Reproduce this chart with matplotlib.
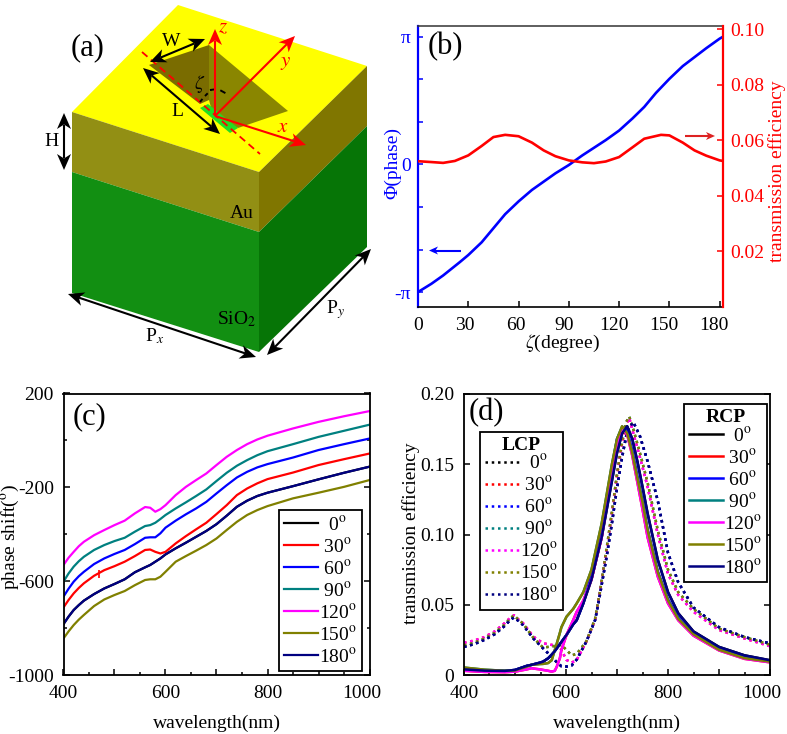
import matplotlib
matplotlib.use('Agg')
import matplotlib.pyplot as plt
from matplotlib.patches import Polygon
from matplotlib.ticker import MultipleLocator, FixedLocator
from matplotlib.transforms import ScaledTranslation
import numpy as np

plt.rcParams['font.family'] = ['Liberation Serif', 'DejaVu Serif']
plt.rcParams['mathtext.fontset'] = 'stix'
plt.rcParams['font.size'] = 14
plt.rcParams['axes.unicode_minus'] = False

W_PX, H_PX = 787, 734
DPI = 100

# panel (b)
zeta_phase = [0, 8, 15, 25, 30, 38, 45, 52, 60, 68, 75, 82, 90, 98, 105, 112, 120, 128, 135, 142, 150, 158, 165, 172, 180, 182]
phase_over_pi = [-1.0, -0.935, -0.87, -0.765, -0.71, -0.61, -0.50, -0.39, -0.29, -0.20, -0.135, -0.07, -0.005, 0.07, 0.13, 0.19, 0.265, 0.36, 0.45, 0.56, 0.67, 0.77, 0.84, 0.91, 0.985, 1.0]
zeta_eff = [0, 8, 15, 22, 30, 38, 45, 52, 60, 68, 75, 82, 90, 98, 105, 112, 120, 128, 135, 145, 150, 158, 165, 172, 180, 182]
eff_zeta = [.0525, .0522, .0519, .0526, .0546, .058, .0612, .062, .0615, .0592, .0564, .0543, .0528, .0521, .0518, .0524, .054, .0575, .0606, .062, .0618, .0592, .0564, .0545, .0528, .0526]

# panel (c)
wl_c = [400, 410, 420, 430, 440, 460, 480, 500, 520, 540, 560, 570, 580, 590, 600, 620, 640, 660, 680, 700, 720, 740, 760, 780, 800, 850, 900, 950, 1000]
phase_120 = [-531, -500, -475, -451, -432, -404, -382, -361, -342, -311, -284, -287, -304, -293, -276, -233, -198, -169, -141, -105, -70, -41, -16, 4, 20, 51, 79, 103, 125]
phase_90 = [-602, -567, -538, -515, -496, -467, -446, -429, -415, -389, -365, -361, -351, -335, -318, -290, -264, -237, -209, -173, -138, -108, -84, -63, -46, -16, 15, 41, 67]
phase_60 = [-666, -632, -602, -579, -560, -527, -503, -484, -467, -442, -415, -413, -413, -396, -372, -342, -315, -290, -262, -226, -191, -158, -134, -115, -101, -73, -41, -16, 8]
phase_30 = [-712, -680, -652, -629, -609, -577, -553, -536, -517, -493, -467, -465, -475, -482, -475, -439, -408, -379, -351, -314, -276, -233, -205, -183, -165, -137, -105, -80, -56]
phase_180 = [-783, -751, -723, -702, -683, -655, -631, -612, -592, -562, -541, -531, -517, -503, -486, -460, -436, -411, -386, -357, -321, -283, -257, -237, -223, -195, -166, -138, -112]
phase_0 = list(phase_180)
phase_150 = [-844, -814, -787, -764, -744, -706, -678, -659, -642, -617, -595, -592, -592, -581, -560, -517, -493, -470, -446, -418, -382, -347, -318, -297, -280, -247, -223, -198, -169]
glitch_wl = [469]
glitch_phase = [-570]

# panel (d), solid = RCP
wl_r = [400, 440, 480, 500, 523, 532, 549, 555, 565, 572, 578, 582, 588, 591, 601, 614, 621, 634, 650, 670, 690, 700, 710, 720, 730, 740, 750, 760, 780, 800, 820, 850, 900, 950, 1000]
rcp_180 = [.004, .0031, .0029, .0036, .0065, .0072, .0088, .0095, .0119, .0145, .017, .019, .022, .0235, .0285, .036, .039, .051, .068, .098, .138, .158, .172, .177, .168, .152, .134, .115, .082, .059, .044, .031, .020, .014, .0105]
rcp_0 = list(rcp_180)
rcp_150 = [.0053, .0038, .003, .0032, .006, .0072, .0078, .0079, .0085, .0105, .0178, .0225, .030, .034, .0415, .047, .051, .059, .075, .108, .150, .168, .177, .172, .158, .140, .123, .103, .073, .053, .040, .029, .018, .012, .0095]
rcp_90 = list(rcp_150)
rcp_120 = [.003, .0022, .002, .0024, .004, .0048, .004, .0036, .003, .0024, .003, .006, .012, .0178, .0285, .039, .045, .053, .068, .098, .143, .164, .176, .171, .156, .137, .118, .098, .070, .051, .039, .028, .0175, .0115, .009]
rcp_30 = list(rcp_120)
rcp_60 = [.004, .0031, .0029, .0036, .0065, .0072, .0088, .0095, .0119, .0145, .017, .019, .022, .0235, .0285, .036, .039, .051, .072, .106, .148, .168, .176, .174, .160, .142, .124, .104, .074, .054, .041, .029, .0185, .0125, .0095]

# panel (d), dotted = LCP
wl_l = [400, 420, 440, 460, 480, 490, 498, 505, 516, 536, 555, 575, 582, 591, 601, 611, 621, 640, 657, 666, 680, 690, 700, 710, 718, 724, 732, 745, 760, 780, 800, 820, 850, 900, 950, 1000]
lcp_120 = [.023, .0245, .027, .031, .037, .0405, .0425, .040, .0368, .0273, .0226, .0212, .0219, .0178, .0107, .0088, .0107, .0238, .0392, .058, .090, .115, .142, .165, .178, .183, .172, .155, .134, .100, .072, .057, .045, .032, .026, .0205]
lcp_30 = list(lcp_120)
lcp_150 = [.021, .023, .026, .030, .036, .040, .0425, .040, .0365, .0265, .0195, .0205, .021, .0214, .0178, .014, .015, .024, .040, .058, .091, .116, .143, .166, .180, .184, .175, .158, .137, .103, .075, .059, .047, .033, .027, .0215]
lcp_90 = list(lcp_150)
lcp_180 = [.020, .022, .025, .029, .035, .039, .041, .039, .0355, .026, .019, .0119, .009, .0062, .006, .0068, .011, .0238, .039, .056, .085, .108, .133, .155, .170, .176, .180, .170, .152, .124, .087, .066, .048, .034, .027, .0225]
lcp_60 = list(lcp_180)
lcp_0 = list(lcp_180)

angle_labels = ['  0$^{\\mathrm{o}}$', ' 30$^{\\mathrm{o}}$', ' 60$^{\\mathrm{o}}$', ' 90$^{\\mathrm{o}}$',
                '120$^{\\mathrm{o}}$', '150$^{\\mathrm{o}}$', '180$^{\\mathrm{o}}$']
line_colors = ['#000000', '#ff0000', '#0000ff', '#008080', '#ff00ff', '#808000', '#000080']

# panel (a) outlines, picture pixels
top_face = [(178, 5), (367, 66), (259, 172), (72, 112)]
au_left = [(72, 112), (259, 172), (259, 232), (72, 172)]
au_right = [(259, 172), (367, 66), (367, 126), (259, 232)]
sio2_left = [(72, 172), (259, 232), (259, 352), (72, 293)]
sio2_right = [(259, 232), (367, 126), (367, 247), (259, 352)]
hole_left = [(149, 65), (209, 45), (209, 100), (200, 104)]
hole_right = [(209, 45), (288, 111), (238, 128), (213, 115), (209, 100)]
hole_green = [(200, 108), (208, 104), (238, 128), (230, 133)]


def px_axes(fig, left, top, right, bottom):
    return fig.add_axes([left / W_PX, 1 - bottom / H_PX, (right - left) / W_PX, (bottom - top) / H_PX])


def shift_label(fig, label, dx):
    label.set_transform(label.get_transform() + ScaledTranslation(dx / DPI, 0, fig.dpi_scale_trans))


def wave_axes(ax):
    ax.set_xlim(400, 1000)
    ax.set_xticks([400, 500, 600, 700, 800, 900, 1000], labels=['400', '', '600', '', '800', '', '1000'])
    ax.xaxis.set_minor_locator(MultipleLocator(50))
    ax.tick_params(which='both', direction='in', top=False, right=True, width=1.1)
    ax.tick_params(which='major', length=4, pad=7)
    ax.tick_params(which='minor', length=2.5)
    for s in ax.spines.values():
        s.set_linewidth(1.3)
    ax.set_xlabel('wavelength(nm)')
    ax.xaxis.set_label_coords(0.5, -0.142)
    fig.canvas.draw()
    shift_label(fig, ax.get_xticklabels()[-1], -8)


def add_legend(ax, handles, labels, x, y, title=None):
    leg = ax.legend(handles, labels, loc='upper left', bbox_to_anchor=(x, y), frameon=True, fancybox=False,
                    framealpha=1, edgecolor='black', handlelength=1.75, handletextpad=0.05, labelspacing=0.16,
                    borderpad=0.25, borderaxespad=0, title=title,
                    title_fontproperties={'weight': 'bold', 'size': 14})
    leg.get_frame().set_linewidth(1.3)
    # no extra gap under the title
    leg._legend_box.sep = 0
    return leg


fig = plt.figure(figsize=(W_PX / DPI, H_PX / DPI), dpi=DPI)

# (b)
ax_b = px_axes(fig, 418, 26, 723, 307)
ax_b.plot(zeta_phase, np.array(phase_over_pi) * np.pi, color='#0000ff', lw=1.9)
ax_b.set_xlim(0, 182)
ax_b.set_ylim(-1.117 * np.pi, 1.084 * np.pi)
ax_b.set_xticks([0, 30, 60, 90, 120, 150, 180])
ax_b.set_yticks([-np.pi, 0, np.pi])
ax_b.set_yticklabels(['-π', '0', 'π'], color='#0000ff')
ax_b.yaxis.set_minor_locator(FixedLocator(np.array([-2, -1, 1, 2]) * np.pi / 3))
ax_b.tick_params(axis='x', direction='in', length=4, width=1.1, pad=7)
ax_b.tick_params(axis='y', which='both', direction='in', length=3.5, width=1.1, color='#0000ff', pad=5)
ax_b.set_xlabel('$\\zeta$(degree)')
ax_b.xaxis.set_label_coords(0.475, -0.093)
ax_b.set_ylabel('Φ(phase)', color='#0000ff')
ax_b.yaxis.set_label_coords(-0.055, 0.512)
ax_b.spines['left'].set_color('#0000ff')
ax_b.spines['left'].set_linewidth(1.6)
ax_b.spines['right'].set_visible(False)
ax_b.spines['top'].set_linewidth(1.1)
ax_b.spines['top'].set_color('#333333')
ax_b.spines['bottom'].set_linewidth(1.2)
fig.canvas.draw()
for lab, dx in zip(ax_b.get_xticklabels(), [0, -3, -3, -5, -5, -6, -6]):
    shift_label(fig, lab, dx)

ax_e = ax_b.twinx()
ax_e.plot(zeta_eff, eff_zeta, color='#ff0000', lw=1.9)
ax_e.set_ylim(0, 0.1012)
ax_e.set_yticks([0.02, 0.04, 0.06, 0.08, 0.10])
ax_e.set_yticklabels(['0.02', '0.04', '0.06', '0.08', '0.10'], color='#ff0000')
ax_e.tick_params(axis='y', direction='in', length=4, width=1.1, color='#ff0000', pad=5)
ax_e.set_ylabel('transmission efficiency', color='#ff0000')
ax_e.yaxis.set_label_coords(1.148, 0.484)
ax_e.spines['right'].set_color('#ff0000')
ax_e.spines['right'].set_linewidth(1.6)
for side in ['left', 'top', 'bottom']:
    ax_e.spines[side].set_visible(False)

# (c)
ax_c = px_axes(fig, 63.5, 393.5, 369.5, 675)
phases = [phase_0, phase_30, phase_60, phase_90, phase_120, phase_150, phase_180]
handles = []
for ys, c in zip(phases, line_colors):
    handles.append(ax_c.plot(wl_c, ys, color=c, lw=1.6)[0])
ax_c.plot(glitch_wl, glitch_phase, '|', color='#ff0000', ms=6, mew=1.2)
ax_c.set_ylim(-1000, 200)
ax_c.set_yticks([-1000, -600, -200, 200])
ax_c.yaxis.set_minor_locator(FixedLocator([-800, -400, 0]))
ax_c.set_ylabel('phase shift($^{\\mathrm{o}}$)')
ax_c.yaxis.set_label_coords(-0.139, 0.49)
wave_axes(ax_c)
add_legend(ax_c, handles, angle_labels, 0.704, 0.586)

# (d)
ax_d = px_axes(fig, 464, 394, 770, 675)
lcps = [lcp_0, lcp_30, lcp_60, lcp_90, lcp_120, lcp_150, lcp_180]
rcps = [rcp_0, rcp_30, rcp_60, rcp_90, rcp_120, rcp_150, rcp_180]
h_l = []
for ys, c in zip(lcps, line_colors):
    h_l.append(ax_d.plot(wl_l, ys, color=c, lw=1.8, ls=(0, (1, 1.5)))[0])
h_r = []
for ys, c in zip(rcps, line_colors):
    h_r.append(ax_d.plot(wl_r, ys, color=c, lw=1.8)[0])
ax_d.set_ylim(0, 0.2)
ax_d.set_yticks([0, 0.05, 0.10, 0.15, 0.20])
ax_d.set_yticklabels(['0', '0.05', '0.10', '0.15', '0.20'])
ax_d.set_ylabel('transmission efficiency')
ax_d.yaxis.set_label_coords(-0.144, 0.505)
wave_axes(ax_d)
leg_l = add_legend(ax_d, h_l, angle_labels, 0.052, 0.865, title='LCP')
ax_d.add_artist(leg_l)
add_legend(ax_d, h_r, angle_labels, 0.719, 0.964, title='RCP')

# overlay in picture pixels: schematic (a) and the panel letters
ov = fig.add_axes([0, 0, 1, 1], zorder=10)
ov.set_xlim(0, W_PX)
ov.set_ylim(H_PX, 0)
ov.axis('off')
for pts, c in [(top_face, '#ffff00'), (au_left, '#928f14'), (au_right, '#807600'), (sio2_left, '#128f12'),
               (sio2_right, '#067506'), (hole_left, '#7a6c00'), (hole_right, '#8a8600'), (hole_green, '#22dd22')]:
    ov.add_patch(Polygon(pts, closed=True, facecolor=c, edgecolor='none'))

ov.plot([142, 260], [52, 154], color='#ff0000', lw=1.3, ls=(0, (4, 2.5)))
ov.plot([200, 204, 211], [102, 97, 90], color='black', lw=1.4, ls=(0, (2, 2)))
ov.plot([210, 218, 227], [90, 89, 94], color='black', lw=1.4, ls=(0, (3, 2.5)))


def head(tip, tail, color, length, half):
    # stealth-style head with a notch at the back
    tip = np.array(tip, dtype=float)
    d = tip - np.array(tail, dtype=float)
    d /= np.hypot(*d)
    n = np.array([-d[1], d[0]])
    base = tip - d * length
    notch = tip - d * length * 0.72
    ov.add_patch(Polygon([tip, base + n * half, notch, base - n * half], closed=True, facecolor=color,
                         edgecolor='none', zorder=4))
    return notch


def arrow(p0, p1, color='black', both=True, lw=1.5, length=16, half=7):
    end = head(p1, p0, color, length, half)
    start = p0
    if both:
        start = head(p0, p1, color, length, half)
    ov.plot([start[0], end[0]], [start[1], end[1]], color=color, lw=lw, zorder=3, solid_capstyle='butt')


arrow((150, 62), (205, 39))
arrow((143, 68), (220, 134))
arrow((64, 113), (64, 170))
arrow((68, 294), (256, 357))
arrow((267, 355), (371, 249))
arrow((215, 116), (215, 29), color='#ff0000', both=False)
arrow((215, 116), (295, 36), color='#ff0000', both=False)
arrow((215, 116), (306, 145), color='#ff0000', both=False)
arrow((461, 250.5), (429, 250.5), color='#0000ff', both=False, length=9, half=4)
arrow((685, 136), (715, 136), color='#dd2222', both=False, length=9, half=4)

for x, y, s in [(88, 48, '(a)'), (445, 47, '(b)'), (89, 417, '(c)'), (486, 413, '(d)')]:
    ov.text(x, y, s, fontsize=22, ha='center', va='center')
for x, y, s in [(171, 42, 'W'), (177, 111, 'L'), (52, 141, 'H'), (242, 213, 'Au'), (237, 319, 'SiO$_2$'),
                (155, 336, 'P$_{x}$'), (335, 310, 'P$_{y}$')]:
    ov.text(x, y, s, fontsize=14, ha='center', va='center')
ov.text(200, 84, '$\\zeta$', fontsize=14, ha='center', va='center')
for x, y, s in [(223, 28, '$z$'), (286, 62, '$y$'), (283, 128, '$x$')]:
    ov.text(x, y, s, fontsize=15, color='#ff0000', ha='center', va='center')

fig.savefig('out.png', dpi=DPI)
